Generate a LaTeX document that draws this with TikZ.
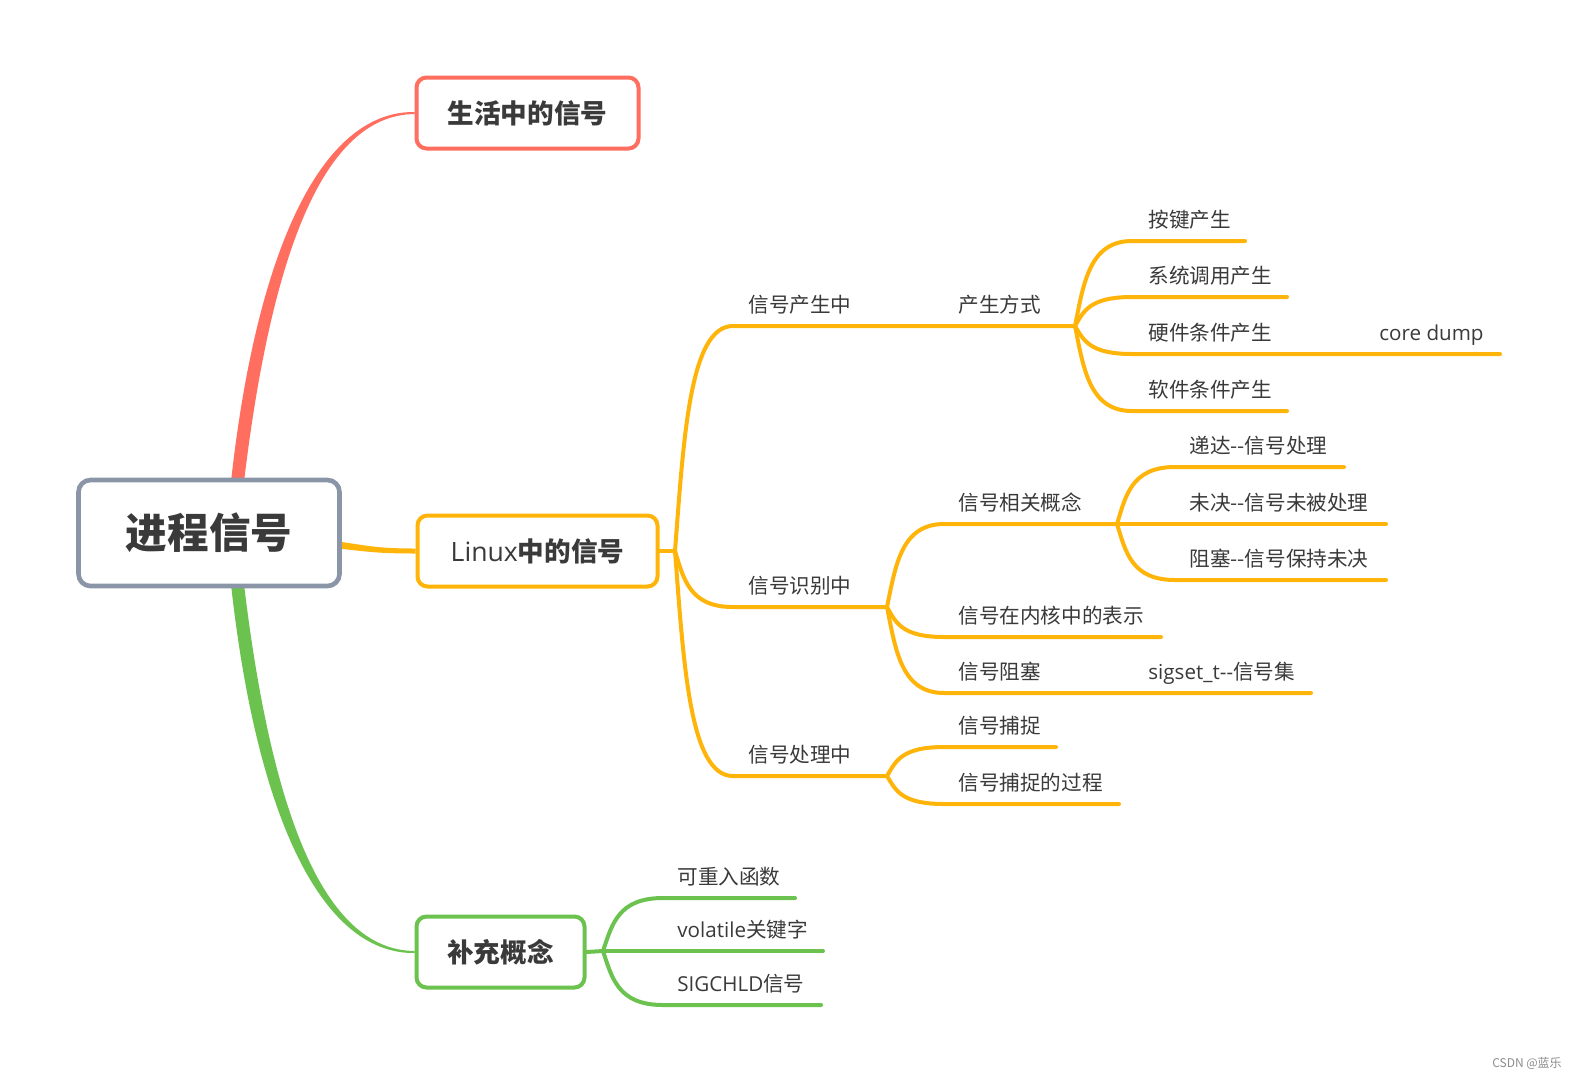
\documentclass[tikz,border=0pt]{standalone}
\usepackage{fontspec}
\setmainfont{Noto Sans CJK SC}
\newfontfamily\opensans{Open Sans}
\usetikzlibrary{positioning,calc,backgrounds}

\definecolor{mapred}{HTML}{FF6E5F}
\definecolor{maporange}{HTML}{FFB40A}
\definecolor{mapgreen}{HTML}{6CC24F}
\definecolor{mapgray}{HTML}{8A96A8}
\definecolor{maptext}{HTML}{3A3A3A}

\tikzset{
  rootbox/.style={draw=mapgray, line width=2.3pt, rounded corners=6pt, fill=white, text=maptext,
    minimum width=130.5pt, minimum height=53pt, inner sep=0pt,
    font=\fontsize{20.8pt}{24pt}\selectfont\bfseries},
  topicbox/.style={draw=#1, line width=2pt, rounded corners=5pt, fill=white, text=maptext,
    minimum height=35.5pt, inner sep=0pt, font=\fontsize{13.3pt}{16pt}\selectfont\bfseries},
  lbl/.style={anchor=base west, inner sep=0pt, text=maptext, font=\fontsize{10.3pt}{12pt}\selectfont},
  twig/.style={to path={let \p1=(\tikztostart), \p2=(\tikztotarget) in
    .. controls ({\x1+0.15*(\x2-\x1)},{\y1+0.5*(\y2-\y1)}) and ({\x1+0.25*(\x2-\x1)},\y2) .. (\tikztotarget)}},
  obr/.style={draw=maporange, line width=2pt, line cap=round},
  gbr/.style={draw=mapgreen, line width=2pt, line cap=round},
}

\begin{document}
\begin{tikzpicture}[x=0.5pt,y=-0.5pt]
\useasboundingbox (0,0) rectangle (1575,1083);

% main topics
\node[rootbox] (root) at (209,533) {进程信号};
\node[topicbox=mapred, minimum width=111pt] (life) at (527.5,113) {生活中的信号};
\node[topicbox=maporange, minimum width=120pt] (linux) at (537.5,551) {{\opensans\mdseries Linux}中的信号};
\node[topicbox=mapgreen, minimum width=84pt] (supp) at (500.5,952) {补充概念};

% junctions and line ends
\coordinate (J0) at (675,551);
\coordinate (b1) at (733,326); \coordinate (c1) at (944,326); \coordinate (J1) at (1075,326);
\coordinate (b2) at (733,607); \coordinate (J2) at (887,607);
\coordinate (b3) at (733,776); \coordinate (J3) at (887,776);
\coordinate (k1) at (1132,241); \coordinate (k1e) at (1245,241);
\coordinate (k2) at (1132,297); \coordinate (k2e) at (1287,297);
\coordinate (k3) at (1132,354); \coordinate (k3m) at (1362,354); \coordinate (k3e) at (1500,354);
\coordinate (k4) at (1132,411); \coordinate (k4e) at (1287,411);
\coordinate (r1) at (944,524); \coordinate (J4) at (1117,524);
\coordinate (r2) at (944,637); \coordinate (r2e) at (1161,637);
\coordinate (r3) at (944,693); \coordinate (r3m) at (1132,693); \coordinate (r3e) at (1311,693);
\coordinate (p1) at (1175,467); \coordinate (p1e) at (1344,467);
\coordinate (p2) at (1175,524); \coordinate (p2e) at (1386,524);
\coordinate (p3) at (1175,580); \coordinate (p3e) at (1386,580);
\coordinate (h1) at (944,747); \coordinate (h1e) at (1056,747);
\coordinate (h2) at (944,804); \coordinate (h2e) at (1119,804);
\coordinate (J5) at (603,951);
\coordinate (s1) at (663,898); \coordinate (s1e) at (795,898);
\coordinate (s2) at (663,951); \coordinate (s2e) at (823,951);
\coordinate (s3) at (663,1005); \coordinate (s3e) at (821,1005);

\begin{scope}[on background layer]
\fill[white] (0,0) rectangle (1575,1083);
% tapered branches from the root
\fill[mapred] ($(root.north)+(22,4)$) .. controls +(25,-227) and +(-95,-1) .. ($(life.west)+(0,-1)$)
  -- ($(life.west)+(0,1)$) .. controls +(-92,1) and +(27,-225) .. ($(root.north)+(35,4)$) -- cycle;
\fill[mapgreen] ($(root.south)+(22,-4)$) .. controls +(25,227) and +(-95,1) .. ($(supp.west)+(0,1)$)
  -- ($(supp.west)+(0,-1)$) .. controls +(-92,-1) and +(27,225) .. ($(root.south)+(35,-4)$) -- cycle;
\fill[maporange] ($(root.east)+(-4,8.5)$) .. controls +(30,4) and +(-40,0) .. ($(linux.west)+(0,-2.5)$)
  -- ($(linux.west)+(0,2.5)$) .. controls +(-40,0) and +(30,3) .. ($(root.east)+(-4,15.5)$) -- cycle;

% Linux subtree
\draw[obr] (linux.east) -- (J0);
\draw[obr] (J0) to[twig] (b1) -- (c1) -- (J1);
\draw[obr] (J0) to[twig] (b2) -- (J2);
\draw[obr] (J0) to[twig] (b3) -- (J3);
\draw[obr] (J1) to[twig] (k1) -- (k1e);
\draw[obr] (J1) to[twig] (k2) -- (k2e);
\draw[obr] (J1) to[twig] (k3) -- (k3m) -- (k3e);
\draw[obr] (J1) to[twig] (k4) -- (k4e);
\draw[obr] (J2) to[twig] (r1) -- (J4);
\draw[obr] (J2) to[twig] (r2) -- (r2e);
\draw[obr] (J2) to[twig] (r3) -- (r3m) -- (r3e);
\draw[obr] (J4) to[twig] (p1) -- (p1e);
\draw[obr] (J4) -- (p2) -- (p2e);
\draw[obr] (J4) to[twig] (p3) -- (p3e);
\draw[obr] (J3) to[twig] (h1) -- (h1e);
\draw[obr] (J3) to[twig] (h2) -- (h2e);

% supplement subtree
\draw[gbr] (supp.east) -- (J5);
\draw[gbr] (J5) to[twig] (s1) -- (s1e);
\draw[gbr] (J5) -- (s2) -- (s2e);
\draw[gbr] (J5) to[twig] (s3) -- (s3e);
\end{scope}

% labels
\node[lbl] (tb1) at ($(b1)+(15,-14)$) {信号产生中};
\node[lbl] (tc1) at ($(c1)+(14,-14)$) {产生方式};
\node[lbl] (tb2) at ($(b2)+(15,-14)$) {信号识别中};
\node[lbl] (tb3) at ($(b3)+(15,-14)$) {信号处理中};
\node[lbl] (tk1) at ($(k1)+(16,-14)$) {按键产生};
\node[lbl] (tk2) at ($(k2)+(16,-14)$) {系统调用产生};
\node[lbl] (tk3) at ($(k3)+(16,-14)$) {硬件条件产生};
\node[lbl] (tk3m) at ($(k3m)+(17,-14)$) {\opensans core dump};
\node[lbl] (tk4) at ($(k4)+(16,-14)$) {软件条件产生};
\node[lbl] (tr1) at ($(r1)+(14,-14)$) {信号相关概念};
\node[lbl] (tr2) at ($(r2)+(14,-14)$) {信号在内核中的表示};
\node[lbl] (tr3) at ($(r3)+(14,-14)$) {信号阻塞};
\node[lbl] (tr3m) at ($(r3m)+(16,-14)$) {{\opensans sigset\_t-{}-}信号集};
\node[lbl] (tp1) at ($(p1)+(14,-14)$) {递达-{}-信号处理};
\node[lbl] (tp2) at ($(p2)+(14,-14)$) {未决-{}-信号未被处理};
\node[lbl] (tp3) at ($(p3)+(14,-14)$) {阻塞-{}-信号保持未决};
\node[lbl] (th1) at ($(h1)+(14,-14)$) {信号捕捉};
\node[lbl] (th2) at ($(h2)+(14,-14)$) {信号捕捉的过程};
\node[lbl] (ts1) at ($(s1)+(14,-14)$) {可重入函数};
\node[lbl] (ts2) at ($(s2)+(14,-14)$) {{\opensans volatile}关键字};
\node[lbl] (ts3) at ($(s3)+(14,-14)$) {{\opensans SIGCHLD}信号};

\node[text=black!45, font=\fontsize{6pt}{7pt}\selectfont, inner sep=0pt] (mark) at (1527,1063) {CSDN @蓝乐};
\end{tikzpicture}
\end{document}
